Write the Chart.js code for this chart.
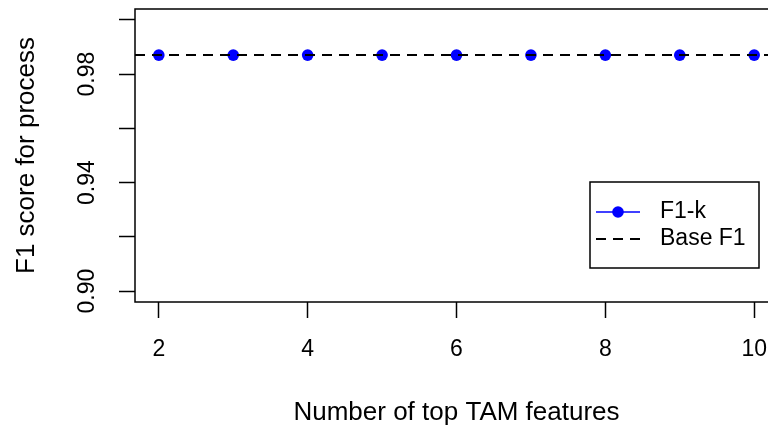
<!DOCTYPE html>
<html lang="en">
<head>
  <meta charset="UTF-8">
  <title>F1 score for process</title>
  <script src="https://cdn.jsdelivr.net/npm/chart.js"></script>
  <style>
    html, body {
      margin: 0;
      padding: 0;
      background: #ffffff;
      overflow: hidden;
    }
    #wrap {
      width: 800px;
      height: 426px;
    }
  </style>
</head>
<body>

<div id="wrap">
  <canvas id="f1Chart" width="800" height="426"></canvas>
</div>

<script>
  // number of top TAM features used
  const kValues = [2, 3, 4, 5, 6, 7, 8, 9, 10];
  // F1 score obtained with the top-k features
  const f1k = [0.987, 0.987, 0.987, 0.987, 0.987, 0.987, 0.987, 0.987, 0.987];
  // F1 score of the base model
  const baseF1 = 0.987;

  const xTicks = [2, 4, 6, 8, 10];
  const yTicks = [0.90, 0.92, 0.94, 0.96, 0.98, 1.00];
  const yTickLabels = ['0.90', '', '0.94', '', '0.98', ''];

  // R style axis ranges (4% padding on each side)
  const xMin = 1.68, xMax = 10.32;
  const yMin = 0.896, yMax = 1.004;

  const FONT = '"Liberation Sans", Arial, Helvetica, sans-serif';

  // plot box, rotated y tick labels and the boxed legend
  const rPlotStyle = {
    id: 'rPlotStyle',
    afterDraw(chart) {
      const { ctx, chartArea, scales } = chart;
      ctx.save();

      // box around plot region
      ctx.strokeStyle = '#000';
      ctx.lineWidth = 1.5;
      ctx.strokeRect(chartArea.left, chartArea.top,
        chartArea.right - chartArea.left, chartArea.bottom - chartArea.top);

      // y tick labels, reading bottom to top
      ctx.fillStyle = '#000';
      ctx.font = '23px ' + FONT;
      ctx.textAlign = 'center';
      ctx.textBaseline = 'middle';
      yTicks.forEach((v, i) => {
        if (!yTickLabels[i]) return;
        const y = scales.y.getPixelForValue(v);
        ctx.save();
        ctx.translate(88, y);
        ctx.rotate(-Math.PI / 2);
        ctx.fillText(yTickLabels[i], 0, 0);
        ctx.restore();
      });

      // legend
      const lx = 590, ly = 182, lw = 169, lh = 86;
      ctx.fillStyle = '#fff';
      ctx.fillRect(lx, ly, lw, lh);
      ctx.lineWidth = 1.5;
      ctx.strokeStyle = '#000';
      ctx.strokeRect(lx, ly, lw, lh);

      const ds = chart.data.datasets;
      const row1 = 212, row2 = 239;

      ctx.strokeStyle = '#0000ff';
      ctx.lineWidth = 1.5;
      ctx.beginPath();
      ctx.moveTo(596, row1);
      ctx.lineTo(640, row1);
      ctx.stroke();
      ctx.fillStyle = '#0000ff';
      ctx.beginPath();
      ctx.arc(618, row1, 5.8, 0, Math.PI * 2);
      ctx.fill();

      ctx.strokeStyle = '#000';
      ctx.lineWidth = 2;
      ctx.setLineDash([10, 7]);
      ctx.beginPath();
      ctx.moveTo(596, row2);
      ctx.lineTo(640, row2);
      ctx.stroke();
      ctx.setLineDash([]);

      ctx.fillStyle = '#000';
      ctx.textAlign = 'left';
      ctx.fillText(ds[0].label, 660, row1);
      ctx.fillText(ds[1].label, 660, row2);

      ctx.restore();
    }
  };

  const ctx = document.getElementById('f1Chart').getContext('2d');
  const chart = new Chart(ctx, {
    type: 'scatter',
    data: {
      datasets: [
        {
          label: 'F1-k',
          data: kValues.map((k, i) => ({ x: k, y: f1k[i] })),
          showLine: false,
          pointRadius: 5.8,
          pointHoverRadius: 5.8,
          pointBackgroundColor: '#0000ff',
          pointBorderColor: '#0000ff',
          pointBorderWidth: 0,
          order: 2
        },
        {
          label: 'Base F1',
          data: [{ x: xMin, y: baseF1 }, { x: xMax, y: baseF1 }],
          showLine: true,
          borderColor: '#000',
          borderWidth: 2,
          borderDash: [10, 7],
          pointRadius: 0,
          order: 1
        }
      ]
    },
    options: {
      responsive: false,
      animation: false,
      layout: {
        padding: { top: 9, right: 22, bottom: 0, left: 0 }
      },
      plugins: {
        legend: { display: false },
        tooltip: { enabled: false }
      },
      scales: {
        x: {
          type: 'linear',
          min: xMin,
          max: xMax,
          afterBuildTicks: axis => { axis.ticks = xTicks.map(v => ({ value: v })); },
          afterFit: axis => { axis.height = 124; },
          border: { display: false },
          grid: {
            drawOnChartArea: false,
            drawTicks: true,
            tickLength: 16,
            tickColor: '#000',
            tickWidth: 1.5
          },
          ticks: {
            color: '#000',
            padding: 20,
            maxRotation: 0,
            font: { family: FONT, size: 23, lineHeight: 1 },
            callback: v => String(v)
          },
          title: {
            display: true,
            text: 'Number of top TAM features',
            color: '#000',
            padding: 0,
            font: { family: FONT, size: 26, lineHeight: 1 }
          }
        },
        y: {
          type: 'linear',
          min: yMin,
          max: yMax,
          afterBuildTicks: axis => { axis.ticks = yTicks.map(v => ({ value: v })); },
          afterFit: axis => { axis.width = 135; },
          border: { display: false },
          grid: {
            drawOnChartArea: false,
            drawTicks: true,
            tickLength: 16,
            tickColor: '#000',
            tickWidth: 1.5
          },
          ticks: {
            display: false
          },
          title: {
            display: true,
            text: 'F1 score for process',
            color: '#000',
            padding: { top: 14, bottom: 0 },
            font: { family: FONT, size: 26, lineHeight: 1 }
          }
        }
      }
    },
    plugins: [rPlotStyle]
  });
</script>

</body>
</html>
